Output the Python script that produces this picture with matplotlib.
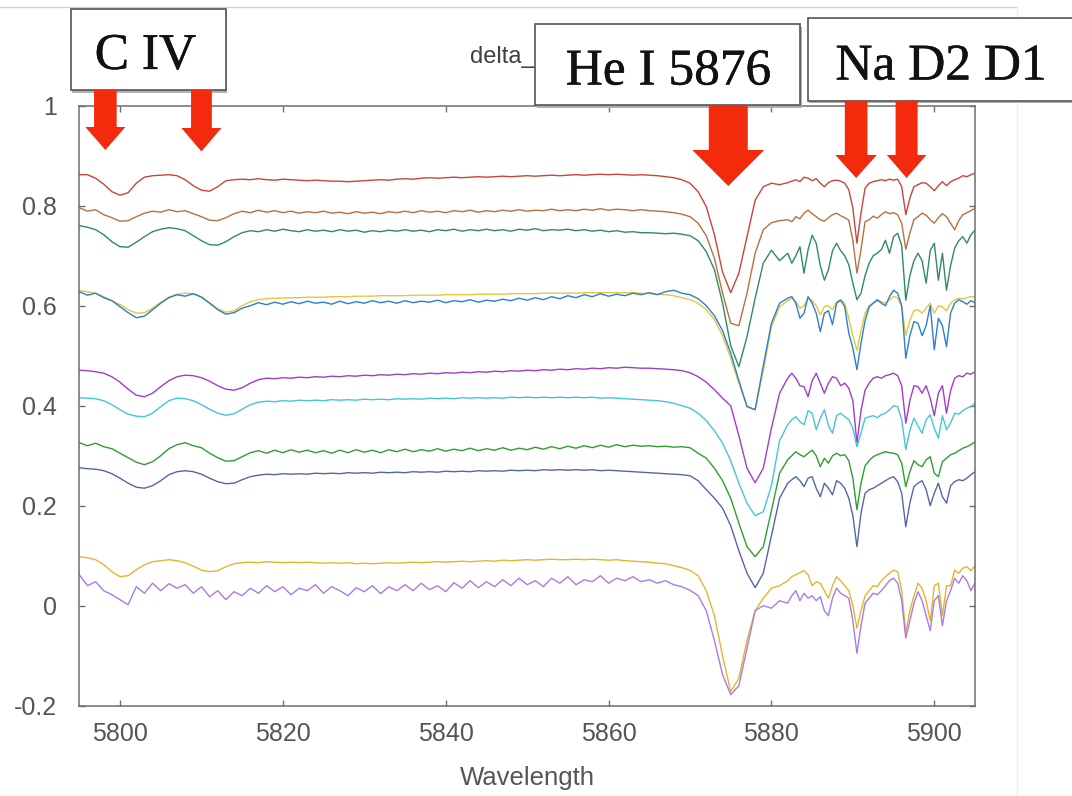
import numpy as np
import matplotlib
matplotlib.use("Agg")
import matplotlib.pyplot as plt
from matplotlib.patches import Rectangle, Polygon
from matplotlib import transforms
import matplotlib.patheffects as pe

# wavelength grid: 1 A steps up to 5881, then 0.5 A steps over the Na D region
wl = np.concatenate([np.arange(5795, 5882, 1.0), np.arange(5882, 5905.01, 0.5)])

red = [0.862, 0.862, 0.855, 0.843, 0.828, 0.821, 0.826, 0.845, 0.857, 0.860,
       0.861, 0.862, 0.860, 0.852, 0.840, 0.831, 0.829, 0.838, 0.850, 0.852,
       0.853, 0.852, 0.854, 0.852, 0.851, 0.853, 0.852, 0.851, 0.850, 0.851,
       0.850, 0.849, 0.849, 0.848, 0.849, 0.850, 0.851, 0.852, 0.851, 0.853,
       0.854, 0.853, 0.855, 0.856, 0.855, 0.856, 0.857, 0.856, 0.857, 0.858,
       0.857, 0.858, 0.859, 0.858, 0.859, 0.860, 0.859, 0.860, 0.861, 0.860,
       0.861, 0.862, 0.861, 0.862, 0.863, 0.862, 0.863, 0.862, 0.861, 0.862,
       0.861, 0.860, 0.858, 0.856, 0.852, 0.845, 0.828, 0.798, 0.742, 0.667,
       0.626, 0.665, 0.738, 0.811, 0.838, 0.845, 0.842,
       0.846, 0.849, 0.852, 0.848, 0.857, 0.855, 0.850, 0.854, 0.845, 0.838,
       0.846, 0.850, 0.851, 0.849, 0.845, 0.832, 0.795, 0.725, 0.785, 0.835,
       0.845, 0.848, 0.850, 0.852, 0.850, 0.853, 0.851, 0.853, 0.838, 0.782,
       0.815, 0.838, 0.842, 0.846, 0.845, 0.838, 0.830, 0.840, 0.848, 0.840,
       0.848, 0.852, 0.855, 0.860, 0.858, 0.862, 0.865]

brown = [0.796, 0.789, 0.792, 0.782, 0.776, 0.769, 0.770, 0.778, 0.785, 0.789,
         0.787, 0.792, 0.788, 0.790, 0.784, 0.778, 0.771, 0.770, 0.776, 0.784,
         0.789, 0.786, 0.791, 0.787, 0.790, 0.786, 0.789, 0.785, 0.788, 0.786,
         0.789, 0.785, 0.787, 0.784, 0.788, 0.785, 0.787, 0.784, 0.788, 0.786,
         0.789, 0.786, 0.790, 0.787, 0.789, 0.786, 0.790, 0.788, 0.791, 0.787,
         0.790, 0.788, 0.791, 0.789, 0.792, 0.789, 0.791, 0.790, 0.793, 0.790,
         0.792, 0.790, 0.793, 0.791, 0.794, 0.791, 0.793, 0.792, 0.790, 0.792,
         0.790, 0.789, 0.788, 0.786, 0.783, 0.778, 0.765, 0.740, 0.695, 0.625,
         0.565, 0.560, 0.625, 0.705, 0.752, 0.766, 0.770,
         0.772, 0.768, 0.778, 0.774, 0.785, 0.791, 0.784, 0.778, 0.772, 0.769,
         0.776, 0.782, 0.785, 0.780, 0.776, 0.771, 0.730, 0.665, 0.712, 0.768,
         0.772, 0.779, 0.775, 0.782, 0.788, 0.784, 0.786, 0.782, 0.765, 0.713,
         0.745, 0.772, 0.778, 0.785, 0.781, 0.772, 0.765, 0.776, 0.784, 0.778,
         0.765, 0.752, 0.770, 0.782, 0.786, 0.790, 0.795]

teal = [0.760, 0.757, 0.752, 0.742, 0.728, 0.718, 0.717, 0.727, 0.738, 0.748,
        0.753, 0.756, 0.754, 0.750, 0.740, 0.730, 0.722, 0.721, 0.728, 0.738,
        0.746, 0.750, 0.748, 0.752, 0.749, 0.753, 0.750, 0.748, 0.752, 0.749,
        0.751, 0.748, 0.752, 0.749, 0.751, 0.747, 0.750, 0.748, 0.751, 0.749,
        0.752, 0.749, 0.751, 0.748, 0.752, 0.750, 0.753, 0.749, 0.752, 0.750,
        0.753, 0.750, 0.752, 0.749, 0.753, 0.751, 0.754, 0.750, 0.752, 0.751,
        0.753, 0.750, 0.752, 0.749, 0.751, 0.748, 0.750, 0.747, 0.748, 0.746,
        0.746, 0.745, 0.744, 0.745, 0.743, 0.740, 0.730, 0.708, 0.672, 0.605,
        0.520, 0.478, 0.538, 0.615, 0.685, 0.711, 0.690,
        0.705, 0.685, 0.700, 0.718, 0.665, 0.712, 0.741, 0.725, 0.680, 0.651,
        0.672, 0.710, 0.725, 0.710, 0.700, 0.682, 0.645, 0.612, 0.625, 0.660,
        0.685, 0.700, 0.705, 0.712, 0.731, 0.705, 0.738, 0.745, 0.720, 0.611,
        0.660, 0.690, 0.705, 0.690, 0.645, 0.710, 0.725, 0.651, 0.705, 0.631,
        0.680, 0.715, 0.730, 0.738, 0.725, 0.742, 0.751]

blue = [0.628, 0.621, 0.625, 0.616, 0.610, 0.598, 0.586, 0.576, 0.579, 0.592,
        0.605, 0.616, 0.622, 0.619, 0.624, 0.617, 0.605, 0.592, 0.583, 0.586,
        0.595, 0.600, 0.606, 0.602, 0.607, 0.603, 0.608, 0.604, 0.609, 0.605,
        0.607, 0.603, 0.609, 0.604, 0.608, 0.605, 0.610, 0.606, 0.609, 0.605,
        0.610, 0.606, 0.609, 0.607, 0.611, 0.606, 0.610, 0.608, 0.612, 0.607,
        0.611, 0.609, 0.613, 0.610, 0.615, 0.611, 0.616, 0.612, 0.618, 0.614,
        0.620, 0.616, 0.622, 0.618, 0.624, 0.619, 0.623, 0.620, 0.625, 0.622,
        0.626, 0.622, 0.628, 0.631, 0.625, 0.622, 0.614, 0.600, 0.580, 0.550,
        0.505, 0.450, 0.398, 0.392, 0.480, 0.565, 0.605,
        0.615, 0.618, 0.605, 0.575, 0.585, 0.618, 0.605, 0.585, 0.548, 0.585,
        0.590, 0.562, 0.605, 0.611, 0.598, 0.545, 0.515, 0.472, 0.525, 0.570,
        0.598, 0.605, 0.612, 0.605, 0.600, 0.618, 0.631, 0.625, 0.600, 0.495,
        0.540, 0.568, 0.565, 0.540, 0.560, 0.600, 0.512, 0.575, 0.560, 0.518,
        0.585, 0.605, 0.612, 0.608, 0.603, 0.610, 0.606]

yellow = [0.630, 0.628, 0.625, 0.618, 0.610, 0.602, 0.592, 0.585, 0.586, 0.595,
          0.607, 0.617, 0.623, 0.625, 0.624, 0.618, 0.606, 0.594, 0.587, 0.590,
          0.600, 0.608, 0.612, 0.614, 0.615, 0.615, 0.616, 0.616, 0.617, 0.617,
          0.617, 0.618, 0.618, 0.618, 0.619, 0.619, 0.619, 0.620, 0.620, 0.620,
          0.620, 0.621, 0.621, 0.621, 0.621, 0.622, 0.622, 0.622, 0.622, 0.623,
          0.623, 0.623, 0.623, 0.624, 0.624, 0.624, 0.624, 0.625, 0.625, 0.625,
          0.625, 0.625, 0.626, 0.626, 0.626, 0.626, 0.626, 0.626, 0.626, 0.625,
          0.624, 0.623, 0.622, 0.620, 0.616, 0.612, 0.605, 0.592, 0.572, 0.540,
          0.495, 0.445, 0.400, 0.392, 0.470, 0.558, 0.598,
          0.610, 0.615, 0.608, 0.595, 0.600, 0.615, 0.610, 0.600, 0.582, 0.598,
          0.600, 0.592, 0.608, 0.612, 0.605, 0.575, 0.540, 0.510, 0.550, 0.585,
          0.600, 0.605, 0.610, 0.608, 0.605, 0.612, 0.618, 0.616, 0.598, 0.540,
          0.570, 0.590, 0.592, 0.585, 0.595, 0.605, 0.585, 0.600, 0.598, 0.590,
          0.605, 0.612, 0.615, 0.614, 0.616, 0.618, 0.618]

purple = [0.471, 0.470, 0.468, 0.465, 0.458, 0.447, 0.433, 0.421, 0.418, 0.425,
          0.438, 0.450, 0.458, 0.461, 0.460, 0.456, 0.449, 0.440, 0.433, 0.431,
          0.436, 0.445, 0.452, 0.455, 0.454, 0.456, 0.455, 0.457, 0.456, 0.458,
          0.457, 0.459, 0.458, 0.460, 0.459, 0.461, 0.460, 0.462, 0.461, 0.463,
          0.462, 0.464, 0.463, 0.465, 0.464, 0.466, 0.465, 0.467, 0.466, 0.468,
          0.467, 0.469, 0.468, 0.470, 0.469, 0.471, 0.470, 0.472, 0.471, 0.473,
          0.472, 0.474, 0.473, 0.475, 0.474, 0.476, 0.475, 0.477, 0.476, 0.475,
          0.475, 0.474, 0.473, 0.472, 0.470, 0.466, 0.458, 0.447, 0.432, 0.415,
          0.400, 0.340, 0.275, 0.246, 0.275, 0.355, 0.425,
          0.455, 0.465, 0.455, 0.440, 0.438, 0.418, 0.450, 0.465, 0.445, 0.425,
          0.445, 0.458, 0.455, 0.440, 0.445, 0.435, 0.410, 0.325, 0.390, 0.431,
          0.445, 0.455, 0.458, 0.455, 0.460, 0.462, 0.465, 0.460, 0.440, 0.365,
          0.410, 0.440, 0.438, 0.425, 0.440, 0.415, 0.380, 0.425, 0.440, 0.385,
          0.430, 0.455, 0.460, 0.458, 0.465, 0.463, 0.468]

cyan = [0.416, 0.415, 0.414, 0.410, 0.402, 0.392, 0.383, 0.379, 0.378, 0.385,
        0.398, 0.410, 0.415, 0.414, 0.410, 0.402, 0.393, 0.385, 0.381, 0.384,
        0.393, 0.402, 0.407, 0.409, 0.408, 0.410, 0.409, 0.411, 0.410, 0.411,
        0.410, 0.412, 0.411, 0.412, 0.411, 0.413, 0.412, 0.413, 0.412, 0.414,
        0.413, 0.414, 0.413, 0.415, 0.414, 0.415, 0.414, 0.416, 0.415, 0.416,
        0.415, 0.416, 0.415, 0.417, 0.416, 0.417, 0.416, 0.417, 0.416, 0.417,
        0.416, 0.417, 0.416, 0.417, 0.415, 0.416, 0.415, 0.414, 0.413, 0.412,
        0.411, 0.410, 0.408, 0.405, 0.400, 0.395, 0.385, 0.370, 0.350, 0.325,
        0.290, 0.245, 0.205, 0.180, 0.188, 0.240, 0.330,
        0.362, 0.372, 0.378, 0.368, 0.362, 0.390, 0.385, 0.352, 0.375, 0.392,
        0.360, 0.345, 0.380, 0.385, 0.378, 0.372, 0.355, 0.318, 0.345, 0.375,
        0.378, 0.380, 0.376, 0.382, 0.385, 0.392, 0.400, 0.398, 0.372, 0.312,
        0.350, 0.375, 0.360, 0.345, 0.372, 0.382, 0.355, 0.335, 0.380, 0.352,
        0.365, 0.385, 0.383, 0.390, 0.395, 0.398, 0.405]

green = [0.326, 0.320, 0.325, 0.318, 0.314, 0.305, 0.296, 0.287, 0.282, 0.288,
         0.300, 0.314, 0.322, 0.326, 0.320, 0.316, 0.305, 0.296, 0.289, 0.290,
         0.298, 0.306, 0.310, 0.305, 0.311, 0.306, 0.312, 0.307, 0.311, 0.306,
         0.310, 0.305, 0.311, 0.306, 0.312, 0.307, 0.311, 0.306, 0.312, 0.308,
         0.313, 0.308, 0.312, 0.309, 0.314, 0.309, 0.313, 0.310, 0.315, 0.310,
         0.314, 0.311, 0.316, 0.311, 0.315, 0.312, 0.317, 0.313, 0.318, 0.314,
         0.319, 0.315, 0.320, 0.316, 0.321, 0.317, 0.322, 0.318, 0.321, 0.319,
         0.320, 0.318, 0.319, 0.317, 0.318, 0.316, 0.305, 0.295, 0.275, 0.250,
         0.215, 0.165, 0.118, 0.098, 0.118, 0.190, 0.265,
         0.292, 0.300, 0.308, 0.302, 0.298, 0.305, 0.311, 0.300, 0.278, 0.295,
         0.285, 0.300, 0.305, 0.300, 0.302, 0.290, 0.255, 0.192, 0.245, 0.280,
         0.290, 0.298, 0.302, 0.305, 0.308, 0.306, 0.305, 0.302, 0.285, 0.238,
         0.268, 0.290, 0.282, 0.278, 0.292, 0.298, 0.265, 0.258, 0.288, 0.295,
         0.302, 0.305, 0.310, 0.315, 0.318, 0.322, 0.328]

slate = [0.276, 0.274, 0.273, 0.270, 0.264, 0.255, 0.245, 0.237, 0.235, 0.240,
         0.250, 0.262, 0.268, 0.270, 0.268, 0.263, 0.255, 0.248, 0.244, 0.245,
         0.252, 0.258, 0.261, 0.263, 0.262, 0.264, 0.263, 0.264, 0.263, 0.265,
         0.264, 0.265, 0.264, 0.266, 0.265, 0.266, 0.265, 0.267, 0.266, 0.267,
         0.266, 0.268, 0.267, 0.268, 0.267, 0.269, 0.268, 0.269, 0.268, 0.270,
         0.269, 0.270, 0.269, 0.271, 0.270, 0.271, 0.270, 0.272, 0.271, 0.272,
         0.271, 0.272, 0.271, 0.272, 0.270, 0.271, 0.270, 0.269, 0.268, 0.267,
         0.266, 0.265, 0.264, 0.263, 0.262, 0.260, 0.250, 0.232, 0.215, 0.195,
         0.160, 0.110, 0.065, 0.036, 0.065, 0.140, 0.215,
         0.245, 0.252, 0.258, 0.250, 0.238, 0.255, 0.258, 0.235, 0.218, 0.245,
         0.235, 0.222, 0.250, 0.245, 0.235, 0.215, 0.180, 0.118, 0.185, 0.225,
         0.232, 0.235, 0.240, 0.245, 0.250, 0.255, 0.258, 0.248, 0.225, 0.158,
         0.205, 0.238, 0.245, 0.250, 0.232, 0.200, 0.225, 0.245, 0.218, 0.205,
         0.240, 0.248, 0.252, 0.250, 0.255, 0.262, 0.268]

gold = [0.098, 0.096, 0.092, 0.082, 0.068, 0.058, 0.060, 0.072, 0.082, 0.088,
        0.090, 0.092, 0.090, 0.086, 0.079, 0.071, 0.068, 0.070, 0.078, 0.084,
        0.086, 0.087, 0.086, 0.088, 0.087, 0.086, 0.087, 0.086, 0.087, 0.086,
        0.085, 0.086, 0.085, 0.086, 0.084, 0.085, 0.084, 0.085, 0.086, 0.085,
        0.086, 0.087, 0.086, 0.087, 0.088, 0.087, 0.088, 0.089, 0.088, 0.089,
        0.090, 0.089, 0.091, 0.090, 0.091, 0.092, 0.091, 0.092, 0.093, 0.092,
        0.092, 0.093, 0.092, 0.093, 0.092, 0.091, 0.092, 0.090, 0.089, 0.088,
        0.087, 0.085, 0.084, 0.080, 0.076, 0.071, 0.060, 0.030, -0.020, -0.100,
        -0.172, -0.145, -0.069, -0.010, 0.015, 0.035, 0.040,
        0.050, 0.058, 0.062, 0.066, 0.070, 0.062, 0.040, 0.048, 0.045, 0.030,
        0.015, 0.040, 0.058, 0.050, 0.040, 0.030, 0.000, -0.045, -0.010, 0.020,
        0.030, 0.040, 0.038, 0.050, 0.058, 0.065, 0.071, 0.068, 0.030, -0.055,
        -0.010, 0.020, 0.045, 0.035, 0.010, -0.030, 0.040, 0.045, -0.020, 0.040,
        0.040, 0.071, 0.065, 0.075, 0.078, 0.070, 0.080]

lavender = [0.062, 0.040, 0.048, 0.030, 0.022, 0.012, 0.002, 0.038, 0.025, 0.045,
            0.030, 0.044, 0.035, 0.042, 0.025, 0.038, 0.018, 0.030, 0.012, 0.028,
            0.020, 0.035, 0.025, 0.040, 0.028, 0.038, 0.022, 0.035, 0.030, 0.042,
            0.025, 0.038, 0.030, 0.020, 0.036, 0.028, 0.040, 0.024, 0.038, 0.030,
            0.042, 0.030, 0.045, 0.032, 0.040, 0.028, 0.046, 0.035, 0.050, 0.036,
            0.048, 0.038, 0.052, 0.040, 0.055, 0.042, 0.050, 0.038, 0.055, 0.045,
            0.058, 0.042, 0.052, 0.048, 0.060, 0.045, 0.055, 0.050, 0.058, 0.048,
            0.052, 0.045, 0.050, 0.042, 0.038, 0.031, 0.020, -0.010, -0.070, -0.138,
            -0.178, -0.160, -0.085, -0.010, 0.000, -0.005, 0.010,
            0.005, 0.020, 0.030, 0.010, 0.025, 0.015, 0.020, 0.010, 0.018, -0.010,
            -0.020, 0.015, 0.035, 0.025, 0.020, 0.015, -0.030, -0.095, -0.040, 0.005,
            0.015, 0.025, 0.022, 0.030, 0.040, 0.050, 0.055, 0.045, 0.010, -0.065,
            -0.030, 0.005, 0.028, 0.010, -0.020, -0.050, 0.010, 0.020, -0.040, 0.010,
            0.030, 0.055, 0.045, 0.060, 0.050, 0.030, 0.045]

series = [
    (red, "#c8453c"), (brown, "#b8703e"), (teal, "#2f8a66"),
    (yellow, "#e2c83a"), (blue, "#2c7fd0"), (purple, "#a33cc8"),
    (cyan, "#45c6d6"), (green, "#2f9e2f"), (slate, "#5566a6"),
    (gold, "#e3b62e"), (lavender, "#a77ce6"),
]

labels = ["C IV", "He I 5876", "Na D2 D1"]
arrow_wl = [5798.2, 5810.0, 5874.7, 5890.4, 5896.6]

W, H = 1072, 796
fig = plt.figure(figsize=(W / 100, H / 100), dpi=100)
ax = fig.add_axes([79.3 / W, 1 - 705.7 / H, 895.7 / W, 600 / H])

for vals, col in series:
    ax.plot(wl, vals, color=col, lw=1.0)

ax.set_xlim(5795, 5905)
ax.set_ylim(-0.2, 1)
ax.set_xticks(np.arange(5800, 5901, 20))
ax.set_yticks([-0.2, 0, 0.2, 0.4, 0.6, 0.8, 1])
ax.set_yticklabels(["-0.2", "0", "0.2", "0.4", "0.6", "0.8", "1"])
for s in ax.spines.values():
    s.set_color("#6e6e6e")
    s.set_linewidth(1.1)
ax.tick_params(direction="in", top=True, right=True, length=4, width=1,
               color="#6e6e6e", labelcolor="#555555", labelsize=18)
ax.tick_params(axis="x", pad=12)
ax.tick_params(axis="y", pad=16)
for t in ax.get_xticklabels() + ax.get_yticklabels():
    t.set_fontfamily("Liberation Sans")
ax.set_xlabel("Wavelength", fontsize=18.5, color="#555555",
              fontfamily="Liberation Sans", labelpad=14)

# overlay in pixel coordinates for the annotation boxes
ov = fig.add_axes([0, 0, 1, 1], zorder=5)
ov.set_xlim(0, W)
ov.set_ylim(H, 0)
ov.axis("off")
ov.patch.set_visible(False)

# screenshot edge lines
ov.plot([0, 1017], [7, 7], color="#d4d4d4", lw=1)
ov.plot([1017, 1017], [7, H], color="#ececec", lw=1)

ov.text(470, 63, "delta_", fontsize=17, color="#404040",
        fontfamily="Liberation Sans", ha="left", va="baseline", zorder=1)

boxes = [(70.6, 8.6, 155, 81.6, 145.5, 68.9),
         (535, 24, 265, 81, 668.6, 84.5),
         (807.6, 18, 280, 82.7, 941, 79.5)]
for (x0, y0, bw, bh, tx, ty), lab in zip(boxes, labels):
    ov.add_patch(Rectangle((x0 + 1.5, y0 + 2.5), bw, bh, facecolor="#b0b0b0",
                           edgecolor="none", zorder=2))
    ov.add_patch(Rectangle((x0, y0), bw, bh, facecolor="white",
                           edgecolor="#555555", lw=1.2, zorder=3))
    ov.text(tx, ty, lab, fontsize=37, fontfamily="Liberation Serif",
            color="#111111", ha="center", va="baseline", zorder=4,
            path_effects=[pe.withStroke(linewidth=0.35, foreground="#111111")])

# arrows: x in wavelength, y in pixels
blend = transforms.blended_transform_factory(ax.transData, ov.transData)
ppa = 895.7 / 110.0
geo = [(90, 127, 150, 11.3, 20),
       (90, 128, 151.5, 10.4, 20),
       (105, 150, 186, 19.5, 36),
       (100.7, 155, 178, 11.3, 20.7),
       (100.7, 155, 178, 11, 19.8)]
for xc, (y0, y1, y2, sw, hw) in zip(arrow_wl, geo):
    s = sw / ppa
    h = hw / ppa
    pts = [(xc - s, y0), (xc + s, y0), (xc + s, y1), (xc + h, y1),
           (xc, y2), (xc - h, y1), (xc - s, y1)]
    ov.add_patch(Polygon(pts, closed=True, facecolor="#f42a0c",
                         edgecolor="none", transform=blend, zorder=4))

fig.savefig("out.png", dpi=100)
